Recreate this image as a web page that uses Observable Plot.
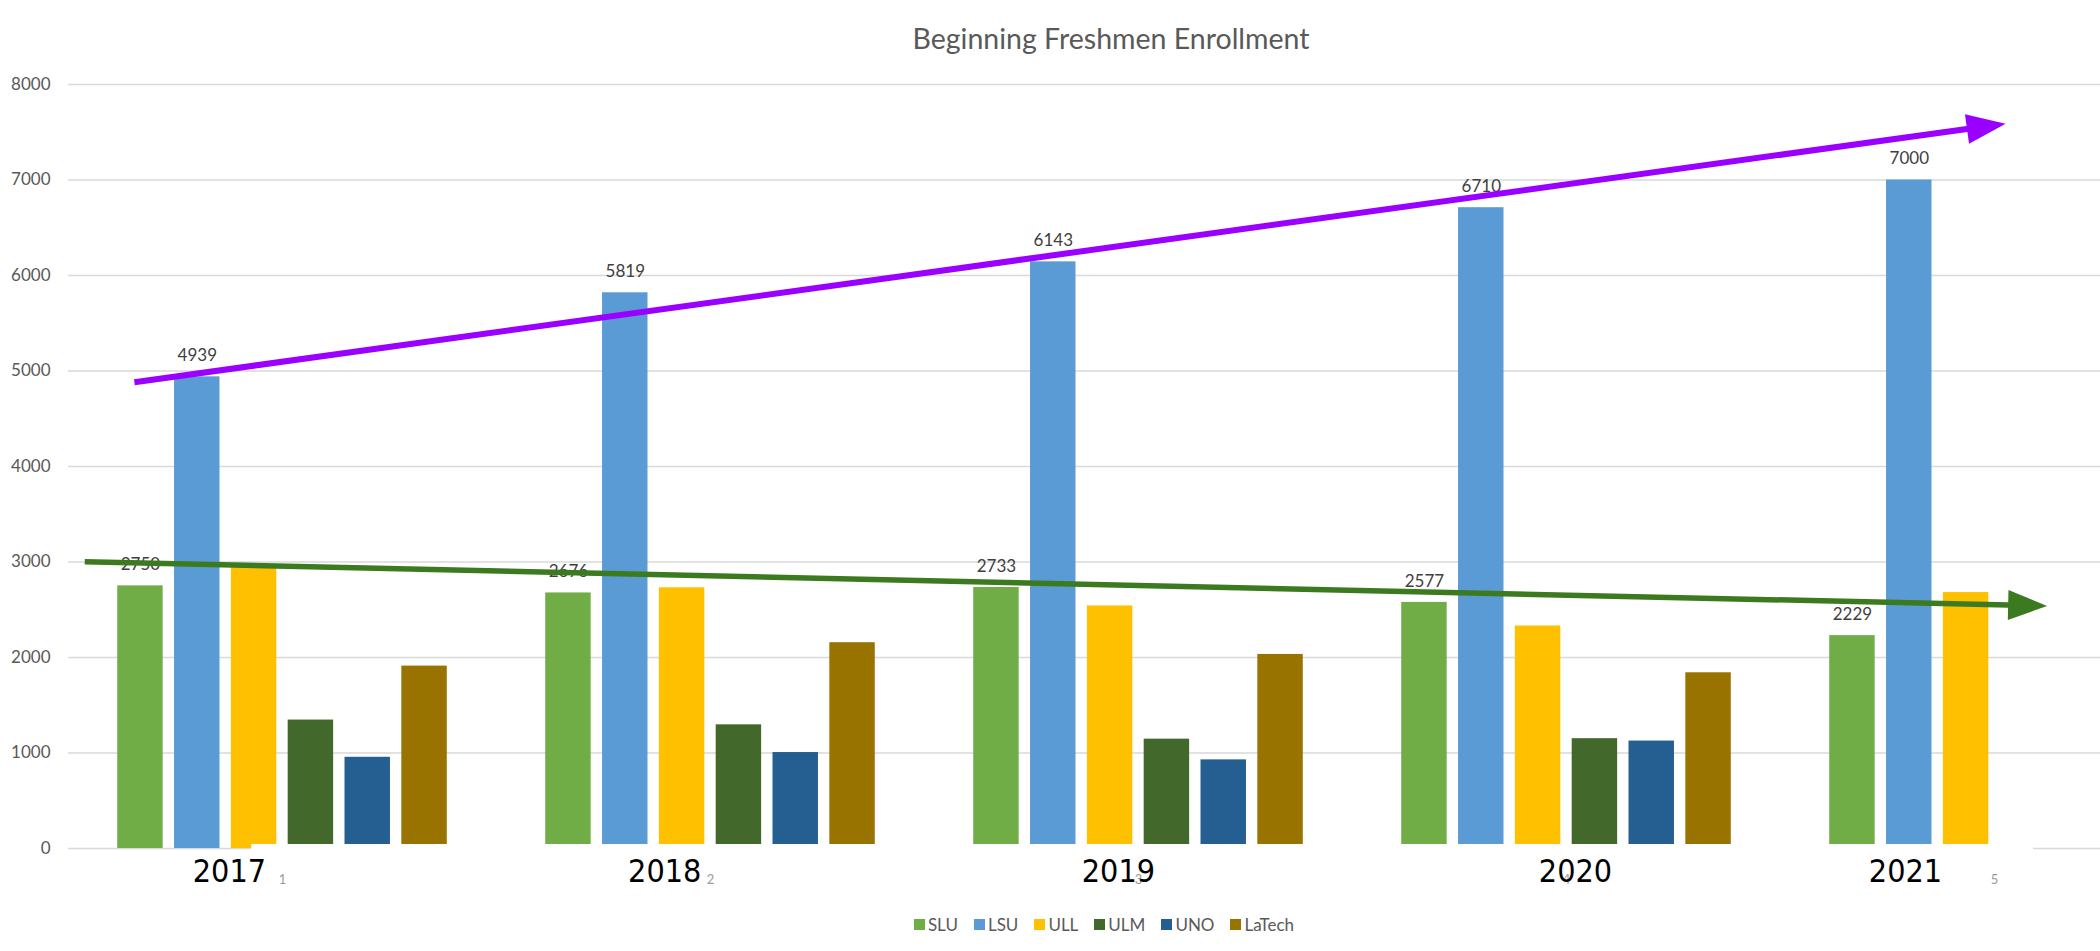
<!DOCTYPE html>
<html>
<head>
<meta charset="utf-8">
<script src="https://cdn.jsdelivr.net/npm/d3@7"></script>
<script src="https://cdn.jsdelivr.net/npm/@observablehq/plot@0.6"></script>
<style>
  html, body { margin: 0; padding: 0; background: #fff; }
  #wrap { width: 2100px; height: 951px; overflow: hidden; background: #fff; }
  #title { box-sizing: border-box; width: 2100px; height: 70px; padding-top: 23px; padding-left: 122px;
           text-align: center; font-family: Lato, sans-serif; font-size: 28.5px; line-height: 30px; color: #595959; }
  #chart svg { display: block; }
  #legend { box-sizing: border-box; width: 2100px; height: 45px; display: flex; justify-content: center; padding-left: 124px; }
  .lg-swatches, .lg-swatches-wrap { font-family: Lato, sans-serif !important; font-size: 17px !important; color: #595959 !important; }
  .lg-swatch { margin-right: 16px !important; }
  .lg-swatch > svg { margin-right: 3px !important; }
</style>
</head>
<body>
<div id="wrap">
  <div id="title">Beginning Freshmen Enrollment</div>
  <div id="chart"></div>
  <div id="legend"></div>
</div>
<script>
// ---------- data ----------
const years = [2017, 2018, 2019, 2020, 2021];
const schools = ["SLU", "LSU", "ULL", "ULM", "UNO", "LaTech"];
const SLU = [2750, 2676, 2733, 2577, 2229];
const LSU = [4939, 5819, 6143, 6710, 7000];
const ULL = [2950, 2730, 2540, 2330, 2680];
const ULM = [1345, 1295, 1145, 1150, null];
const UNO = [955, 1005, 928, 1125, null];
const LaTech = [1910, 2155, 2032, 1840, null];
const labelledSchools = ["SLU", "LSU"];
const schoolColors = ["#70AD47", "#5B9BD5", "#FFC000", "#43682B", "#255E91", "#997300"];
const yTicks = [0, 1000, 2000, 3000, 4000, 5000, 6000, 7000, 8000];
const yearLabels = ["2017", "2018", "2019", "2020", "2021"];
const categoryTicks = ["1", "2", "3", "4", "5"];
// hand-drawn trend arrows: [x start, y start, x tip, y tip]
const lsuTrend = [2016.654, 4883, 2021.026, 7590];
const restTrend = [2016.538, 3003, 2021.123, 2540];

// ---------- layout ----------
const W = 2100, H = 836;
const M = {top: 14, bottom: 58, left: 68, right: 0};
const xDomain = [2016.5, 2021.5], xRange = [68, 2208];
const yearLabelShift = [-0.124, -0.107, -0.047, 0.021, -0.208];
const mask = [{x1: 2016.928, x2: 2021.091, y1: 42, y2: -1500}];

const series = {SLU, LSU, ULL, ULM, UNO, LaTech};
const table = years.flatMap((year, i) => schools.map(school => ({year, school, value: series[school][i]})))
  .filter(d => d.value != null);
const inner = d3.scaleBand().domain(schools).range([-0.385, 0.385]).paddingInner(0.2).paddingOuter(0);
const bw = inner.bandwidth();

const sx = d3.scaleLinear(xDomain, xRange);
const sy = d3.scaleLinear([0, 8000], [H - M.bottom, M.top]);

function headSymbol(angle, len, half) {
  const c = Math.cos(angle), s = Math.sin(angle);
  return {
    draw(ctx) {
      ctx.moveTo(0, 0);
      ctx.lineTo(-len * c - half * s, -len * s + half * c);
      ctx.lineTo(-len * c + half * s, -len * s - half * c);
      ctx.closePath();
    }
  };
}
function arrow(t, color, width) {
  const [x1, y1, x2, y2] = t;
  const px = sx(x2) - sx(x1), py = sy(y2) - sy(y1);
  const ang = Math.atan2(py, px);
  const f = 1 - 28 / Math.hypot(px, py);
  return [
    Plot.link([t], {x1: d => d[0], y1: d => d[1], x2: d => d[0] + (d[2] - d[0]) * f, y2: d => d[1] + (d[3] - d[1]) * f,
      stroke: color, strokeWidth: width}),
    Plot.dot([t], {x: d => d[2], y: d => d[3], symbol: headSymbol(ang, 39, 15), r: 10, fill: color, stroke: "none"})
  ];
}

const chart = Plot.plot({
  width: W, height: H,
  marginTop: M.top, marginBottom: M.bottom, marginLeft: M.left, marginRight: M.right,
  style: {fontFamily: "Lato, sans-serif", fontSize: "17px", color: "#595959", background: "white", overflow: "hidden"},
  x: {domain: xDomain, range: xRange, axis: null},
  y: {domain: [0, 8000], ticks: yTicks, tickSize: 0, tickPadding: 18, tickFormat: "d", label: null},
  color: {domain: schools, range: schoolColors},
  marks: [
    Plot.ruleY(yTicks, {stroke: "#d9d9d9", strokeWidth: 1.5}),
    Plot.rect(table, {x1: d => d.year + inner(d.school), x2: d => d.year + inner(d.school) + bw,
      y1: 0, y2: "value", fill: "school"}),
    Plot.rect(mask, {x1: "x1", x2: "x2", y1: "y1", y2: "y2", fill: "white"}),
    Plot.text(categoryTicks, {x: (d, i) => years[i], frameAnchor: "bottom", dy: 35, fontSize: 13, fill: "#9a9a9a"}),
    Plot.text(yearLabels, {x: (d, i) => years[i] + yearLabelShift[i], frameAnchor: "bottom", dy: 33,
      fontSize: 32, fontFamily: "'Liberation Sans Narrow', 'DejaVu Sans Condensed', Lato, sans-serif", fill: "black"}),
    Plot.text(table.filter(d => labelledSchools.includes(d.school)), {
      x: d => d.year + inner(d.school) + bw / 2, y: "value", text: d => String(d.value),
      dy: -21, fontSize: 17, fill: "#404040"}),
    ...arrow(restTrend, "#3B7A1F", 5.5),
    ...arrow(lsuTrend, "#9A00FF", 6)
  ]
});
document.getElementById("chart").appendChild(chart);

const legend = Plot.legend({
  color: {domain: schools, range: schoolColors},
  swatchSize: 11,
  className: "lg",
  style: {fontFamily: "Lato, sans-serif", fontSize: "17px", color: "#595959"}
});
document.getElementById("legend").appendChild(legend);
</script>
</body>
</html>
